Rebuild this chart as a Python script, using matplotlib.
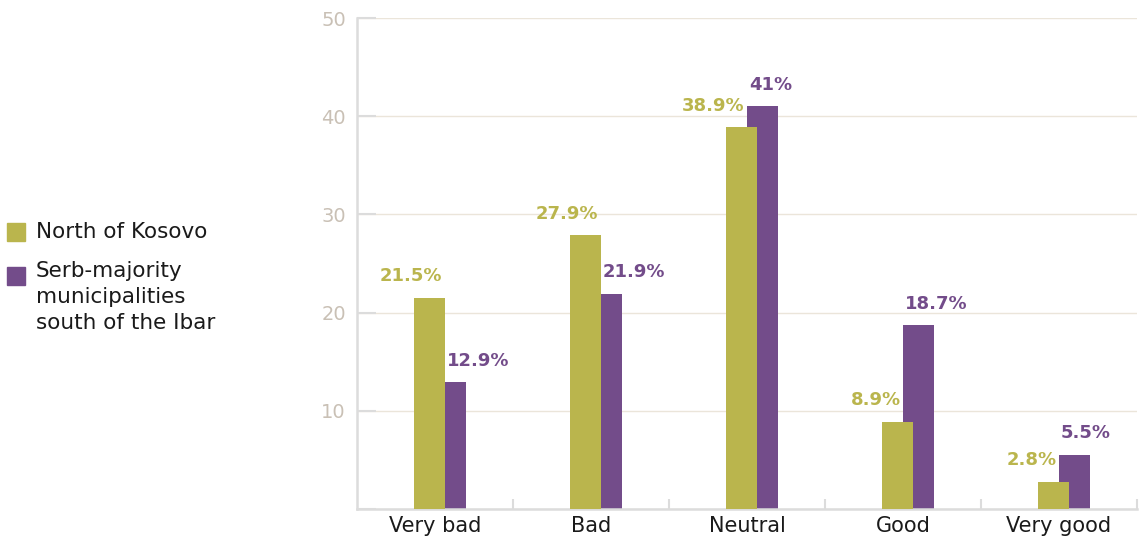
import matplotlib.pyplot as plt
import numpy as np
from matplotlib.patches import Rectangle

# Données
categories = ['Very bad', 'Bad', 'Neutral', 'Good', 'Very good']
north = [21.5, 27.9, 38.9, 8.9, 2.8]
south = [12.9, 21.9, 41, 18.7, 5.5]
north_labels = ['21.5%', '27.9%', '38.9%', '8.9%', '2.8%']
south_labels = ['12.9%', '21.9%', '41%', '18.7%', '5.5%']
series_names = ['North of Kosovo', 'Serb-majority\nmunicipalities\nsouth of the Ibar']

c_north = '#bab54d'
c_south = '#734c8a'

plt.rcParams['font.family'] = ['DejaVu Sans']

fig = plt.figure(figsize=(11.45, 5.38), dpi=100)
ax = fig.add_axes([357 / 1145, 1 - 509 / 538, 780 / 1145, 491 / 538])

x = np.arange(len(categories))
w = 0.2
off = 0.135
x_n = x - 0.035
x_s = x_n + off

ax.bar(x_s, south, width=w, color=c_south, zorder=2)
ax.bar(x_n, north, width=w, color=c_north, zorder=3)

# Étiquettes de valeur : on les écarte de la barre voisine la plus haute
for i in range(len(categories)):
    if north[i] >= south[i]:
        xa_n, dx_n = x_n[i] + w / 2, -2.5
        xa_s, dx_s = x_n[i] + w / 2, 1
    else:
        xa_n, dx_n = x_s[i] - w / 2, -1.5
        xa_s, dx_s = x_s[i] - w / 2, 1.5
    ax.annotate(north_labels[i], (xa_n, north[i]), xytext=(dx_n, 9),
                textcoords='offset points', ha='right', va='bottom',
                color=c_north, fontsize=13, fontweight='bold', zorder=4)
    ax.annotate(south_labels[i], (xa_s, south[i]), xytext=(dx_s, 9),
                textcoords='offset points', ha='left', va='bottom',
                color=c_south, fontsize=13, fontweight='bold', zorder=4)

ax.set_xlim(-0.5, 4.5)
ax.set_ylim(0, 50)

# Axe y
ax.set_yticks([0, 10, 20, 30, 40, 50])
ax.set_yticklabels(['', '10', '20', '30', '40', '50'])
ax.tick_params(axis='y', direction='in', length=14, width=1.5, color='#dcdcdc',
               labelcolor='#c9c0b5', labelsize=14, pad=8)
ax.grid(axis='y', color='#ebe5da', linewidth=1, zorder=0)

# Axe x
ax.set_xticks(x)
ax.set_xticklabels(categories)
ax.tick_params(axis='x', which='major', length=0, labelsize=15,
               labelcolor='#1a1a1a', pad=5)
ax.set_xticks(np.arange(0.5, 5, 1), minor=True)
ax.tick_params(axis='x', which='minor', direction='in', length=7, width=1.5,
               color='#dcdcdc')

for s in ['top', 'right']:
    ax.spines[s].set_visible(False)
for s in ['left', 'bottom']:
    ax.spines[s].set_color('#dcdcdc')
    ax.spines[s].set_linewidth(1.8)
ax.set_axisbelow(True)

# Légende
H, W = 538, 1145
sq = 18
fig.patches.append(Rectangle((7 / W, 1 - 241 / H), sq / W, sq / H,
                             transform=fig.transFigure, color=c_north))
fig.patches.append(Rectangle((7 / W, 1 - 285 / H), sq / W, sq / H,
                             transform=fig.transFigure, color=c_south))
fig.text(36 / W, 1 - 232 / H, series_names[0], fontsize=15.5, color='#1a1a1a',
         va='center', ha='left')
fig.text(36 / W, 1 - 261 / H, series_names[1], fontsize=15.5, color='#1a1a1a',
         va='top', ha='left', linespacing=1.38)

plt.savefig('out.png', dpi=100)
